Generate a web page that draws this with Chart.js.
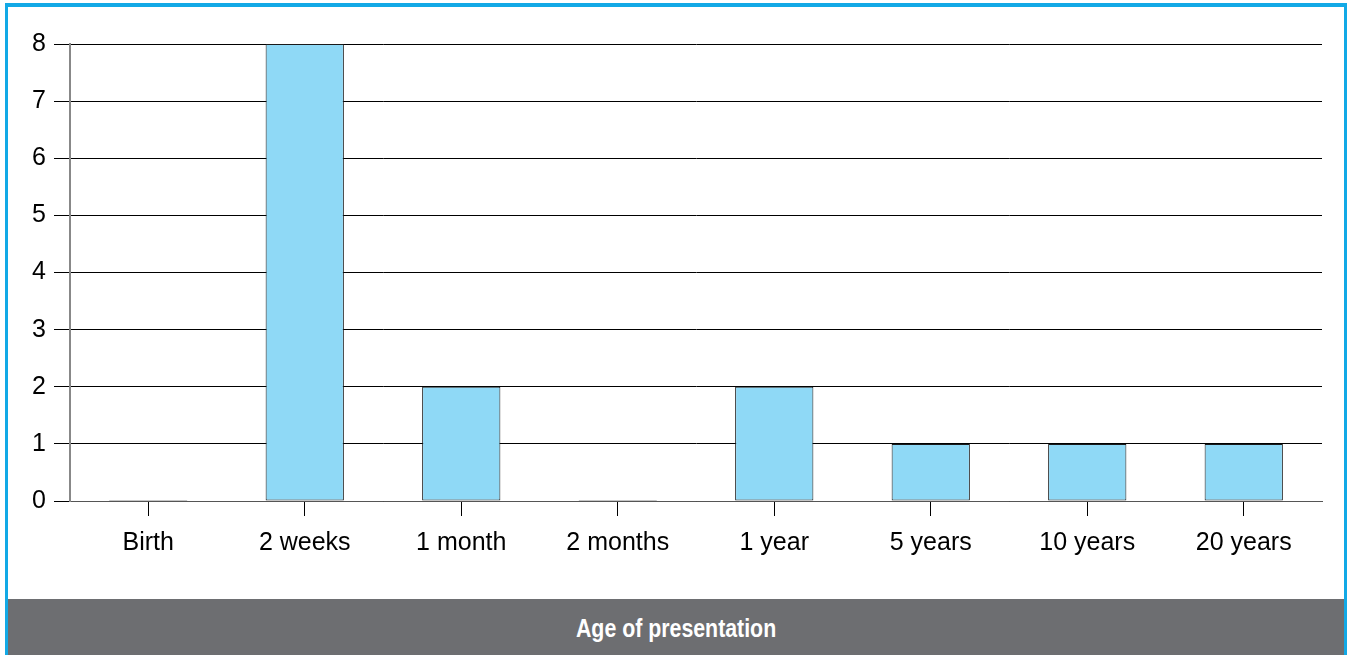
<!DOCTYPE html>
<html>
<head>
<meta charset="utf-8">
<script src="https://cdn.jsdelivr.net/npm/chart.js@4/dist/chart.umd.min.js"></script>
<style>
  html, body { margin: 0; padding: 0; background: #ffffff; }
  body { width: 1348px; height: 655px; position: relative; overflow: hidden; }
  #frame {
    position: absolute; left: 5px; top: 3px; width: 1336px; height: 652px;
    border-left: 3px solid #12a9e6; border-right: 3px solid #12a9e6; border-top: 4px solid #12a9e6;
    background: #ffffff;
  }
  #wrap { position: absolute; left: 8px; top: 7px; width: 1336px; height: 592px; }
  #band {
    position: absolute; left: 8px; top: 599px; width: 1336px; height: 56px;
    background: #6d6e71; text-align: center;
  }
  #band span {
    display: inline-block; color: #ffffff;
    font-family: "Liberation Sans", Arial, sans-serif;
    font-weight: bold; font-size: 26px; line-height: 58px;
    transform: scaleX(0.82); transform-origin: center;
  }
</style>
</head>
<body>
<div id="frame"></div>
<div id="wrap"><canvas id="chart" width="1336" height="592"></canvas></div>
<div id="band"><span>Age of presentation</span></div>
<script>
// Age at presentation (number of cases)
const categories = ["Birth", "2 weeks", "1 month", "2 months", "1 year", "5 years", "10 years", "20 years"];
const caseCounts = [0, 8, 2, 0, 2, 1, 1, 1];
const yTickValues = [0, 1, 2, 3, 4, 5, 6, 7, 8];

const tickFont = { family: "'Liberation Sans', Arial, sans-serif", size: 25 };

new Chart(document.getElementById("chart"), {
  type: "bar",
  data: {
    labels: categories,
    datasets: [{
      data: caseCounts,
      backgroundColor: "#8fd9f6",
      borderColor: "#1a1a1a",
      borderWidth: 1,
      borderSkipped: false,
      minBarLength: 1,
      categoryPercentage: 0.5,
      barPercentage: 1.0
    }]
  },
  options: {
    responsive: false,
    animation: false,
    layout: { padding: { top: 37, right: 22, left: 0, bottom: 0 } },
    plugins: { legend: { display: false }, tooltip: { enabled: false } },
    scales: {
      x: {
        grid: {
          offset: false,
          drawOnChartArea: false,
          drawTicks: true,
          tickLength: 15,
          color: "#000000",
          lineWidth: 1
        },
        border: { display: true, color: "#555555", width: 1 },
        ticks: { color: "#000000", font: tickFont, padding: 12, maxRotation: 0 },
        afterFit: (scale) => { scale.height = 98; }
      },
      y: {
        min: 0,
        max: 8,
        afterBuildTicks: (scale) => { scale.ticks = yTickValues.map(v => ({ value: v })); },
        grid: {
          color: "#000000",
          lineWidth: 1,
          tickLength: 16
        },
        border: { display: true, color: "#888888", width: 2 },
        ticks: { color: "#000000", font: tickFont, padding: 8 },
        afterFit: (scale) => { scale.width = 62; }
      }
    }
  }
});
</script>
</body>
</html>
